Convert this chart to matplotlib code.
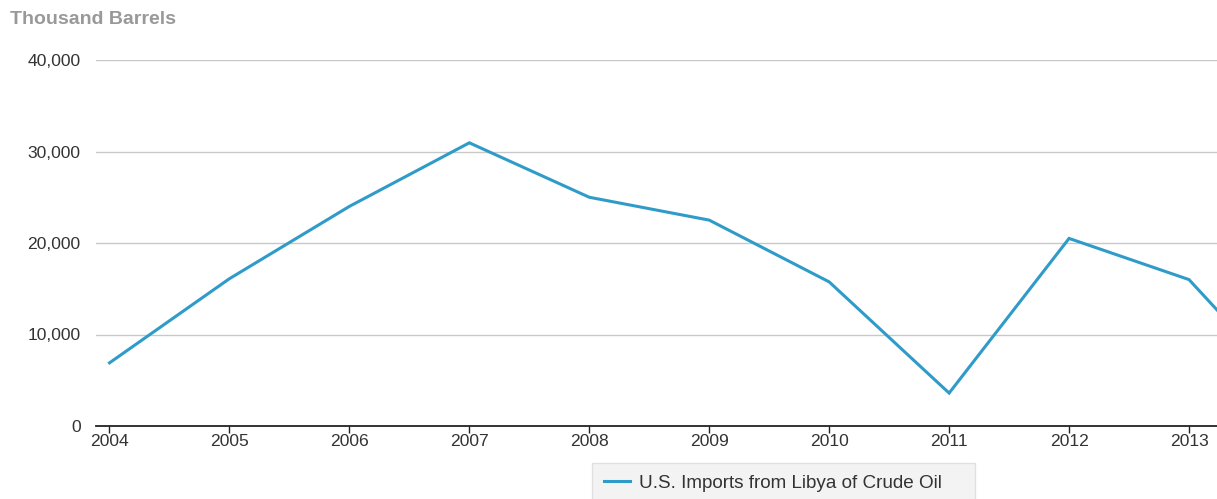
import matplotlib
matplotlib.use("Agg")
import matplotlib.pyplot as plt
from matplotlib.ticker import FuncFormatter

plt.rcParams['font.family'] = ['Liberation Sans', 'DejaVu Sans']

years = [2004, 2005, 2006, 2007, 2008, 2009, 2010, 2011, 2012, 2013, 2014]
imports = [6900, 16100, 24000, 30950, 25000, 22500, 15750, 3600, 20500, 16000, 1800]
y_ticks = [0, 10000, 20000, 30000, 40000]
x_ticks = [2004, 2005, 2006, 2007, 2008, 2009, 2010, 2011, 2012, 2013]
series_name = "U.S. Imports from Libya of Crude Oil"
unit_label = "Thousand Barrels"

W, H = 1217, 499
fig = plt.figure(figsize=(W / 100, H / 100), dpi=100)
ax = fig.add_axes([96 / W, 1 - 426 / H, 1 - 96 / W, (426 - 60) / H])

line_color = '#2f9bc9'
ln, = ax.plot(years, imports, color=line_color, lw=2.2, solid_joinstyle='miter',
              label=series_name, zorder=3)

ax.set_xlim(2004 - 13.5 / 120, 2013 + 28 / 120)
ax.set_ylim(0, 40000)
ax.set_yticks(y_ticks)
ax.set_xticks(x_ticks)
ax.yaxis.set_major_formatter(FuncFormatter(lambda v, p: f"{int(v):,}"))

for s in ['top', 'right', 'left']:
    ax.spines[s].set_visible(False)
ax.spines['bottom'].set_color('#222222')
ax.spines['bottom'].set_linewidth(1.3)

ax.grid(axis='y', color='#c8c8c8', lw=1.0, zorder=0)
ax.set_axisbelow(True)

ax.tick_params(axis='y', length=0, pad=11, labelsize=12.6, labelcolor='#333333')
ax.tick_params(axis='x', length=5, width=1, color='#222222', direction='out',
               pad=1, labelsize=12.6, labelcolor='#333333')

fig.text(10 / W, 1 - 20 / H, unit_label, fontsize=14, fontweight='bold',
         color='#999999', ha='left', va='center')

top = 1 - 462.5 / H
leg = fig.legend(handles=[ln], loc='upper left', mode='expand',
                 bbox_to_anchor=(592 / W, top - 0.01, (975 - 592) / W, 0.01),
                 borderaxespad=0,
                 fontsize=13.6, frameon=True, fancybox=False,
                 handlelength=1.35, handletextpad=0.5, borderpad=0.65)
leg.get_frame().set_facecolor('#f1f1f1')
leg.get_frame().set_edgecolor('#dadada')
leg.get_frame().set_linewidth(1.0)
for t in leg.get_texts():
    t.set_color('#333333')

fig.savefig('out.png', dpi=100)
